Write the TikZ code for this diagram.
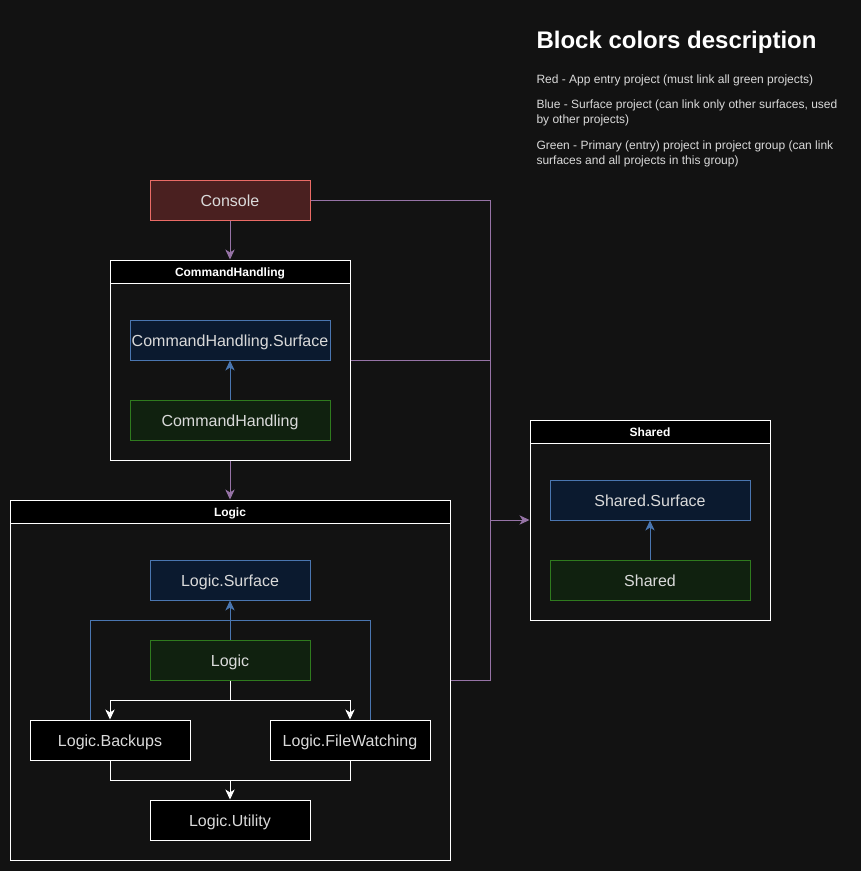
\documentclass[tikz,border=0pt]{standalone}
\usepackage{fontspec}
\setmainfont{Liberation Sans}
\usetikzlibrary{positioning, arrows, arrows.meta}
\definecolor{bgcol}{HTML}{121212}
\definecolor{txtgray}{HTML}{DADADA}
\definecolor{redline}{HTML}{EA6B66}
\definecolor{redfill}{HTML}{4A2020}
\definecolor{blueline}{HTML}{4A76B0}
\definecolor{bluefill}{HTML}{0B1A2F}
\definecolor{greenline}{HTML}{2F7A1E}
\definecolor{greenfill}{HTML}{10210F}
\definecolor{purpleline}{HTML}{9673A6}

\begin{document}
\begin{tikzpicture}[x=0.75pt,y=-0.75pt,>={Stealth[length=7.5pt,width=7pt,inset=2.2pt]},line width=0.75pt,
    base node/.style={draw,minimum height=30pt,inner sep=0pt,text=txtgray,text height=9pt,text depth=0pt,font=\fontsize{12}{14}\selectfont},
    red node/.style={base node,draw=redline,fill=redfill,minimum width=120pt},
    blue node/.style={base node,draw=blueline,fill=bluefill},
    green node/.style={base node,draw=greenline,fill=greenfill},
    plain node/.style={base node,draw=white,fill=black,minimum width=120pt},
    group box/.style={draw=white,inner sep=0pt},
    group head/.style={draw=white,fill=black,text=white,inner sep=0pt,minimum height=17.25pt,text height=6.8pt,text depth=0pt,font=\fontsize{9}{11}\selectfont\bfseries},
    legend text/.style={anchor=base west,inner sep=0pt,align=left,text=txtgray,font=\fontsize{9}{11.25}\selectfont}]

\useasboundingbox (0,0) rectangle (861,871);
\fill[bgcol] (0,0) rectangle (861,871);

% legend
\node[anchor=base west,inner sep=0pt,text=white,font=\fontsize{18}{20}\selectfont\bfseries] (legtitle) at (536,48) {Block colors description};
\node[legend text] (legred)   at (536,83) {Red - App entry project (must link all green projects)};
\node[legend text] (legblue)  at (536,123) {Blue - Surface project (can link only other surfaces, used\\by other projects)};
\node[legend text] (leggreen) at (536,164) {Green - Primary (entry) project in project group (can link\\surfaces and all projects in this group)};

% groups
\node[group box,minimum width=180pt,minimum height=150pt] (chbox) at (230,360) {};
\node[group head,minimum width=180pt] (chhead) at (230,271.5) {CommandHandling};
\node[group box,minimum width=330pt,minimum height=270pt] (logicbox) at (230,680) {};
\node[group head,minimum width=330pt] (logichead) at (230,511.5) {Logic};
\node[group box,minimum width=180pt,minimum height=150pt] (sharedbox) at (650,520) {};
\node[group head,minimum width=180pt] (sharedhead) at (650,431.5) {Shared};

% projects
\node[red node] (console) at (230,200) {Console};
\node[blue node,minimum width=150pt] (chsurf) at (230,340) {CommandHandling.Surface};
\node[green node,minimum width=150pt] (ch) at (230,420) {CommandHandling};
\node[blue node,minimum width=120pt] (logicsurf) at (230,580) {Logic.Surface};
\node[green node,minimum width=120pt] (logic) at (230,660) {Logic};
\node[plain node] (backups) at (110,740) {Logic.Backups};
\node[plain node] (filewatch) at (350,740) {Logic.FileWatching};
\node[plain node] (utility) at (230,820) {Logic.Utility};
\node[blue node,minimum width=150pt] (sharedsurf) at (650,500) {Shared.Surface};
\node[green node,minimum width=150pt] (shared) at (650,580) {Shared};

\coordinate (bus) at (490,520);
\coordinate (merge) at (230,620);
\coordinate (split) at (230,700);
\coordinate (join) at (230,780);

% links between groups
\draw[->,purpleline] (console) -- (chhead);
\draw[->,purpleline] (chbox) -- (logichead);
\draw[->,purpleline] (console.east) -| (bus) -- (sharedbox.west);
\draw[purpleline] (chbox.east) -| (bus);
\draw[purpleline] (logicbox.east) -| (bus);

% surfaces
\draw[->,blueline] (ch) -- (chsurf);
\draw[->,blueline] (shared) -- (sharedsurf);
\draw[->,blueline] (logic) -- (logicsurf);
\draw[blueline] ([xshift=-15pt]backups.north) |- (merge);
\draw[blueline] ([xshift=15pt]filewatch.north) |- (merge);

% inside logic
\draw[->,white] (logic) -- (split) -| (backups);
\draw[->,white] (split) -| (filewatch);
\draw[white] (backups) |- (join);
\draw[white] (filewatch) |- (join);
\draw[->,white] (join) -- (utility);

\end{tikzpicture}
\end{document}
